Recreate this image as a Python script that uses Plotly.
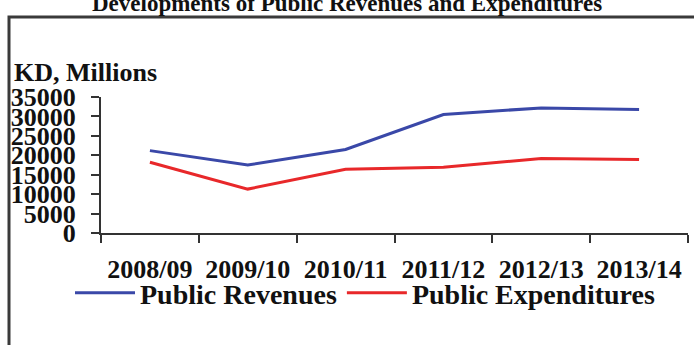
import plotly.graph_objects as go

years = ["2008/09", "2009/10", "2010/11", "2011/12", "2012/13", "2013/14"]
revenues = [21200, 17500, 21500, 30500, 32200, 31800]
expenditures = [18200, 11300, 16400, 16900, 19200, 18900]
y_ticks = [0, 5000, 10000, 15000, 20000, 25000, 30000, 35000]

W, H = 694, 345
L, R, T, B = 101, 6, 97, 112
pw, ph = W - L - R, H - T - B

def px(x):
    return (x - L) / pw

def py(y):
    return (H - B - y) / ph

SERIF = "Liberation Serif"

fig = go.Figure()
fig.add_trace(go.Scatter(x=years, y=revenues, mode="lines", name="<b>Public Revenues</b>",
                         line=dict(color="#3a48a8", width=3)))
fig.add_trace(go.Scatter(x=years, y=expenditures, mode="lines", name="<b>Public Expenditures</b>",
                         line=dict(color="#e8282a", width=3)))

fig.update_layout(
    width=W, height=H,
    margin=dict(l=L, r=R, t=T, b=B),
    paper_bgcolor="white", plot_bgcolor="white",
    showlegend=True,
    legend=dict(orientation="h", x=px(70), xanchor="left", y=py(293), yanchor="middle",
                font=dict(family=SERIF, size=28, color="#111"),
                itemwidth=60, bgcolor="rgba(0,0,0,0)", tracegroupgap=0),
    xaxis=dict(type="category", range=[-0.5, 5.5], showline=True, linecolor="#333", linewidth=2,
               ticks="outside", tickson="boundaries", ticklen=8, tickcolor="#333", tickwidth=2,
               showgrid=False, zeroline=False,
               tickfont=dict(family=SERIF, size=26, color="#111", weight="bold"),
               ticklabelstandoff=12),
    yaxis=dict(range=[0, 35000], tickvals=y_ticks, ticktext=[str(v) for v in y_ticks],
               showline=True, linecolor="#333", linewidth=2,
               ticks="outside", ticklen=8, tickcolor="#333", tickwidth=2,
               showgrid=False, zeroline=False,
               tickfont=dict(family=SERIF, size=26, color="#111", weight="bold"),
               ticklabelstandoff=10),
    shapes=[dict(type="rect", xref="paper", yref="paper",
                 x0=px(9), x1=px(710), y0=py(17), y1=py(360),
                 line=dict(color="#3a3a3a", width=3), fillcolor="rgba(0,0,0,0)", layer="below")],
    annotations=[
        dict(text="<b>KD, Millions</b>", xref="paper", yref="paper", x=px(12), y=py(72),
             xanchor="left", yanchor="middle", showarrow=False,
             font=dict(family=SERIF, size=26, color="#111")),
        dict(text="<b>Developments of Public Revenues and Expenditures</b>", xref="paper", yref="paper",
             x=px(347), y=py(3), xanchor="center", yanchor="middle", showarrow=False,
             font=dict(family=SERIF, size=23, color="#111")),
    ],
)

fig.write_html("out.html", config={"displayModeBar": False},
               post_script="document.body.style.margin='0';document.body.style.overflow='hidden';")
